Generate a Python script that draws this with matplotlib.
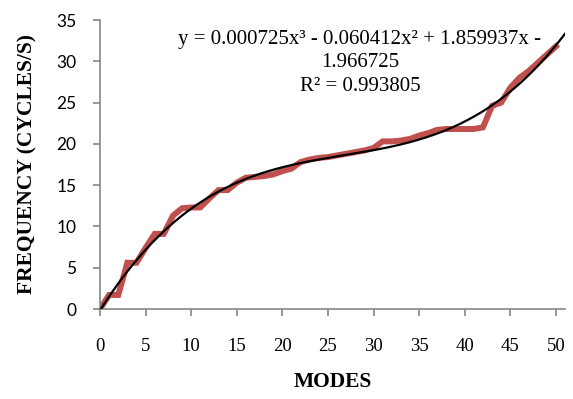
import numpy as np
import matplotlib
matplotlib.use("Agg")
import matplotlib.pyplot as plt

# Measured natural frequencies for each mode
modes = list(range(0, 51))
frequency = [0.0, 1.7, 1.7, 5.6, 5.6, 7.4, 9.1, 9.1, 11.3, 12.2,
             12.3, 12.3, 13.4, 14.4, 14.4, 15.3, 15.9, 16.0, 16.1, 16.3,
             16.7, 17.0, 17.8, 18.1, 18.3, 18.4, 18.6, 18.8, 19.0, 19.2,
             19.5, 20.3, 20.3, 20.4, 20.6, 21.0, 21.3, 21.7, 21.8, 21.8,
             21.8, 21.8, 22.0, 24.6, 25.0, 26.8, 28.0, 28.8, 29.8, 30.8,
             31.8]

# Cubic trendline coefficients (highest power first), fitted on the 1-based point index
trend_coeffs = [0.000725, -0.060412, 1.859937, -1.966725]
r_squared = 0.993805

x_ticks = [0, 5, 10, 15, 20, 25, 30, 35, 40, 45, 50]
y_ticks = [0, 5, 10, 15, 20, 25, 30, 35]

fig = plt.figure(figsize=(5.73, 3.99), dpi=100)
ax = fig.add_axes([100 / 573, 90 / 399, 465 / 573, 289 / 399])

ax.plot(modes, frequency, color="#C0504D", lw=4.3, solid_joinstyle="miter", zorder=2)

xt = np.linspace(0, 51, 400)
yt = np.polyval(trend_coeffs, xt + 1)
ax.plot(xt, yt, color="black", lw=1.6, zorder=3)

ax.set_xlim(0, 51)
ax.set_ylim(0, 35)
ax.set_xticks(x_ticks)
ax.set_yticks(y_ticks)

for side in ("top", "right"):
    ax.spines[side].set_visible(False)
for side in ("left", "bottom"):
    ax.spines[side].set_color("#868686")
    ax.spines[side].set_linewidth(1.2)

ax.tick_params(axis="both", direction="out", length=5, width=1.2, color="#868686")
ax.tick_params(axis="x", pad=16)
ax.tick_params(axis="y", pad=12)
for lbl in ax.get_xticklabels():
    lbl.set_fontfamily("Liberation Serif")
    lbl.set_fontsize(13.5)
for lbl in ax.get_yticklabels():
    lbl.set_fontfamily("Lato")
    lbl.set_fontsize(12.5)

ax.set_xlabel("MODES", fontfamily="Liberation Serif", fontweight="bold", fontsize=15.5, labelpad=12)
ax.set_ylabel("FREQUENCY (CYCLES/S)", fontfamily="Liberation Serif", fontweight="bold",
              fontsize=15.5, labelpad=10)
ax.yaxis.set_label_coords(-63 / 465, 0.5)

a, b, c, d = trend_coeffs
eq_text = (f"y = {a:.6f}x\u00b3 - {abs(b):.6f}x\u00b2 + {c:.6f}x -\n"
           f"{abs(d):.6f}\nR\u00b2 = {r_squared:.6f}")
fig.text(360 / 573, 1 - 30 / 399, eq_text, ha="center", va="top", ma="center",
         fontfamily="Liberation Serif", fontsize=15, linespacing=1.32)

fig.savefig("out.png", dpi=100)
